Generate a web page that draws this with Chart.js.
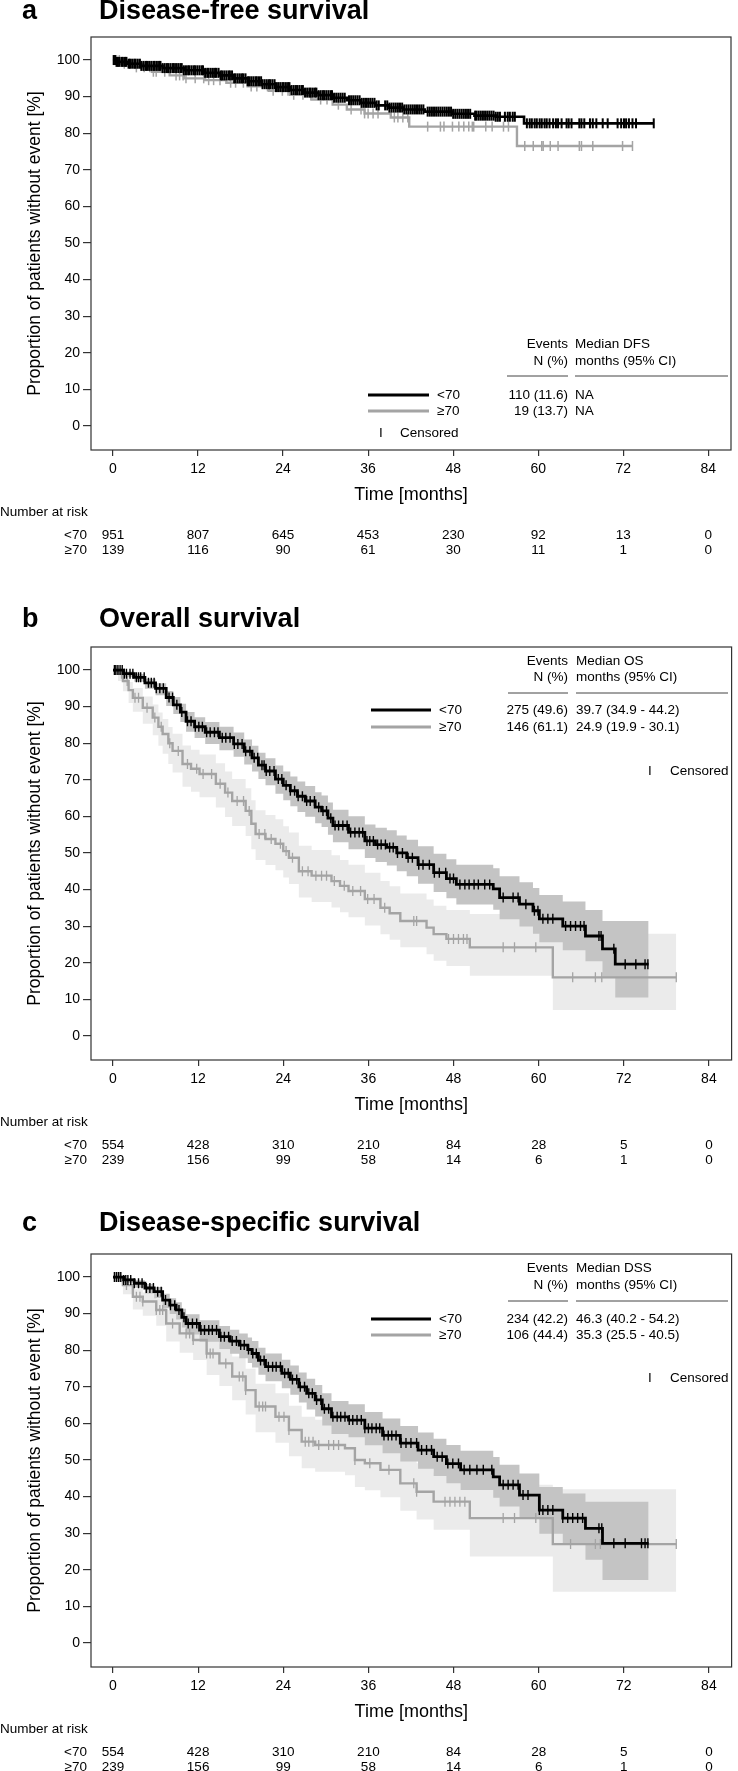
<!DOCTYPE html>
<html>
<head>
<meta charset="utf-8">
<script src="https://cdn.jsdelivr.net/npm/chart.js@4.4.1/dist/chart.umd.min.js"></script>
<style>
  html, body { margin: 0; padding: 0; background: #fff; width: 738px; height: 1771px; overflow: hidden; }
  .panel { position: absolute; left: 0; width: 738px; height: 556px; }
  .panel canvas { position: absolute; left: 0; top: 0; }
  .head { position: absolute; font: bold 27px "Liberation Sans", Arial, sans-serif; line-height: 27px; color: #000; white-space: nowrap; }
</style>
</head>
<body>
<div class="panel" style="top:0px">
  <canvas id="chart-dfs" width="738" height="556"></canvas>
  <div class="head" style="left:22px;top:-3px">a</div>
  <div class="head" style="left:99px;top:-3px">Disease-free survival</div>
</div>
<div class="panel" style="top:610px">
  <canvas id="chart-os" width="738" height="556"></canvas>
  <div class="head" style="left:22px;top:-5px">b</div>
  <div class="head" style="left:99px;top:-5px">Overall survival</div>
</div>
<div class="panel" style="top:1217px">
  <canvas id="chart-dss" width="738" height="556"></canvas>
  <div class="head" style="left:22px;top:-8px">c</div>
  <div class="head" style="left:99px;top:-8px">Disease-specific survival</div>
</div>

<script>
const X_TICKS = [0, 12, 24, 36, 48, 60, 72, 84];
const Y_TICKS = [0, 10, 20, 30, 40, 50, 60, 70, 80, 90, 100];
const GROUPS = ['<70', '≥70'];

// a: disease-free survival
const DFS_YOUNG_T = [0, 0.5, 2, 4, 7, 10, 13, 15, 17, 19, 21, 23, 25, 27, 29, 31, 33, 35, 37, 39, 41, 44, 48, 51, 54, 58, 76.3];
const DFS_YOUNG_S = [100, 99.5, 99, 98.4, 97.8, 97.2, 96.5, 95.8, 95, 94.2, 93.4, 92.6, 91.8, 91.1, 90.4, 89.7, 89, 88.3, 87.6, 87, 86.5, 85.9, 85.3, 84.8, 84.5, 82.7, 82.7];
const DFS_YOUNG_CENS = [0.1, 0.3, 0.5, 0.7, 0.9, 1.2, 1.4, 1.7, 1.9, 2.2, 2.4, 2.7, 3.0, 3.2, 3.5, 3.8, 4.0, 4.3, 4.6, 4.8, 5.1, 5.4, 5.7, 5.9, 6.2, 6.5, 6.7, 7.0, 7.3, 7.6, 7.8, 8.1, 8.4, 8.6, 8.9, 9.2, 9.5, 9.7, 10.0, 10.3, 10.6, 10.8, 11.1, 11.4, 11.6, 11.9, 12.2, 12.5, 12.7, 13.0, 13.3, 13.5, 13.8, 14.1, 14.4, 14.6, 14.9, 15.2, 15.4, 15.7, 16.0, 16.3, 16.5, 16.8, 17.1, 17.3, 17.6, 17.9, 18.2, 18.4, 18.7, 19.0, 19.2, 19.5, 19.8, 20.1, 20.3, 20.6, 20.9, 21.1, 21.4, 21.7, 22.0, 22.2, 22.5, 22.8, 23.0, 23.3, 23.6, 23.9, 24.1, 24.4, 24.7, 24.9, 25.2, 25.5, 25.8, 26.0, 26.3, 26.6, 26.8, 27.1, 27.4, 27.7, 27.9, 28.2, 28.5, 28.7, 29.0, 29.3, 29.6, 29.8, 30.1, 30.4, 30.7, 30.9, 31.2, 31.5, 31.8, 32.1, 32.4, 32.7, 33.3, 33.6, 33.9, 34.2, 34.5, 34.8, 35.1, 35.4, 35.7, 36.0, 36.3, 36.6, 36.9, 37.2, 37.5, 38.4, 38.7, 39.0, 39.3, 39.6, 39.9, 40.2, 40.5, 40.8, 41.1, 41.4, 41.7, 42.0, 42.3, 42.6, 42.9, 43.2, 43.5, 43.8, 44.4, 44.7, 45.0, 45.3, 45.6, 45.9, 46.2, 46.5, 46.8, 47.1, 47.4, 47.7, 48.0, 48.3, 48.6, 48.9, 49.2, 49.5, 49.8, 50.1, 50.4, 51.1, 51.3, 51.6, 51.9, 52.2, 52.5, 52.8, 53.1, 53.4, 53.7, 54.0, 54.3, 54.6, 55.3, 55.7, 56.0, 56.4, 56.7, 58.4, 58.8, 59.1, 59.5, 59.8, 60.2, 60.5, 60.9, 61.2, 61.6, 62.1, 62.5, 62.8, 63.3, 64.0, 64.3, 64.7, 65.8, 66.1, 66.5, 67.3, 67.7, 68.2, 69.1, 69.8, 71.2, 71.7, 72.1, 72.4, 72.8, 73.3, 73.8, 76.3];
const DFS_OLD_T = [0, 1, 3, 5.5, 8, 10, 13, 16, 19, 22, 25, 28, 31, 33, 35.5, 39.2, 41.8, 57, 73.3];
const DFS_OLD_S = [100, 99, 98, 96.8, 95.8, 95, 94.5, 93.8, 92.8, 91.6, 90.5, 89.2, 87.8, 86.5, 85.4, 84.3, 81.8, 76.5, 76.5];
const DFS_OLD_CENS = [0.2, 0.5, 0.9, 1.6, 2.4, 3.3, 4.4, 5.2, 5.7, 6.1, 7.3, 8.9, 9.4, 9.9, 10.3, 11.6, 12.8, 13.5, 14.2, 15.1, 16.6, 17.3, 18.4, 19.5, 20.3, 21.8, 22.6, 23.9, 24.7, 25.5, 26.8, 27.9, 29.3, 30.2, 31.8, 33.6, 35.0, 35.5, 36.0, 36.7, 37.4, 39.7, 40.2, 40.9, 41.6, 44.4, 46.2, 46.7, 47.9, 48.8, 49.5, 50.2, 50.7, 50.9, 52.6, 53.5, 55.1, 55.8, 58.1, 59.3, 60.5, 60.7, 61.7, 62.8, 65.8, 66.1, 67.7, 71.9, 73.3];
const DFS_EVENTS = ['110 (11.6)', '19 (13.7)'];
const DFS_MEDIAN = ['NA', 'NA'];
const DFS_RISK_YOUNG = [951, 807, 645, 453, 230, 92, 13, 0];
const DFS_RISK_OLD = [139, 116, 90, 61, 30, 11, 1, 0];

// b: overall survival
const OS_YOUNG_T = [0, 1.5, 3, 4.5, 6, 7.5, 8.5, 9.5, 10.3, 11.5, 13, 15, 17, 18.5, 19.6, 20.5, 21.5, 22.9, 24, 25, 26, 27.1, 28.5, 29.4, 30.3, 31, 33.2, 35.5, 37, 38.6, 40, 41.4, 43, 45.2, 47, 48.4, 53.6, 54.5, 57.3, 59.2, 60.1, 63.4, 66.6, 69, 70.8, 75.5];
const OS_YOUNG_S = [100, 99, 98, 96.5, 95, 92.5, 90.5, 88.5, 86, 84.5, 83, 81.5, 79.8, 77.8, 76, 74, 72.4, 70.2, 68.5, 67, 65.5, 64.2, 62.5, 61.5, 59.5, 57.5, 55.6, 53.3, 52.3, 51.5, 50, 48.7, 46.8, 44.6, 43, 41.4, 40.2, 37.8, 36, 34.2, 32, 30, 27.3, 23.8, 19.6, 19.6];
const OS_YOUNG_LO = [100, 98.2, 96.8, 94.9, 93.1, 90.2, 88, 85.8, 83.1, 81.4, 79.8, 78.1, 76.3, 74.2, 72.3, 70.2, 68.5, 66.2, 64.4, 62.8, 61.2, 59.9, 58.1, 57.1, 55, 52.9, 51, 48.6, 47.5, 46.6, 45, 43.6, 41.6, 39.3, 37.6, 35.9, 34.5, 31.9, 29.9, 27.9, 25.6, 23.4, 20.4, 16, 10.5, 10.5];
const OS_YOUNG_HI = [100, 99.6, 98.9, 97.6, 96.4, 94.3, 92.6, 90.8, 88.5, 87.1, 85.8, 84.5, 82.9, 81, 79.3, 77.4, 75.9, 73.9, 72.3, 70.9, 69.5, 68.3, 66.6, 65.7, 63.8, 61.8, 60, 57.8, 56.9, 56.2, 54.8, 53.6, 51.8, 49.8, 48.3, 46.8, 45.8, 43.6, 42, 40.4, 38.5, 36.7, 34.4, 31.4, 31.4, 31.4];
const OS_YOUNG_CENS = [0.2, 0.4, 0.7, 1.0, 1.3, 1.6, 1.9, 2.4, 2.8, 3.3, 3.6, 3.9, 4.4, 5.0, 5.4, 5.8, 6.1, 6.6, 7.1, 7.9, 8.4, 9.0, 9.7, 10.5, 11.0, 11.6, 12.1, 12.6, 13.2, 13.7, 14.3, 14.8, 15.4, 15.9, 16.5, 17.1, 17.6, 18.2, 18.7, 19.3, 19.9, 20.4, 21.0, 21.3, 21.6, 22.1, 22.7, 23.3, 23.8, 24.4, 25.0, 25.6, 26.1, 26.7, 27.3, 27.8, 28.4, 29.0, 29.6, 30.1, 30.7, 31.3, 31.8, 32.4, 33.0, 33.5, 34.1, 34.7, 35.2, 35.8, 36.2, 36.7, 37.3, 37.8, 38.4, 39.0, 39.5, 40.1, 40.8, 41.6, 42.2, 43.1, 43.7, 44.6, 45.3, 46.0, 46.9, 47.5, 48.0, 48.9, 49.6, 50.2, 50.9, 51.5, 52.4, 53.1, 55.0, 56.4, 57.1, 58.2, 59.4, 59.9, 60.6, 61.3, 62.0, 63.8, 64.5, 65.2, 65.9, 66.4, 68.5, 68.8, 70.6, 72.2, 73.7, 75.0, 75.4];
const OS_OLD_T = [0, 0.7, 1.4, 2.2, 2.8, 4.2, 5.6, 6.4, 7, 7.8, 8.4, 9.8, 11, 12.2, 14.5, 15.8, 16.8, 18.7, 19.5, 20.1, 21.5, 22.9, 24, 24.8, 26.2, 28, 30.8, 32, 33.2, 35.5, 37.7, 39, 40.5, 44.2, 45.2, 47, 50.3, 62, 79.4];
const OS_OLD_S = [100, 99, 97, 94.5, 92.4, 89.7, 87, 84.5, 82.5, 80, 77.9, 74.3, 73, 71.6, 68.9, 66.5, 64.2, 61.5, 58, 55.2, 53.8, 52.5, 50.5, 48.7, 45, 43.8, 42.3, 41, 39.6, 37.4, 35, 33.5, 31.4, 29.6, 27.8, 26.5, 24.2, 16, 16];
const OS_OLD_LO = [100, 97, 94.2, 91, 88.6, 85.3, 82.2, 79.3, 77.1, 74.3, 72, 68.1, 66.7, 65.2, 62.4, 59.8, 57.4, 54.6, 51, 48.1, 46.7, 45.3, 43.3, 41.5, 37.8, 36.6, 35.1, 33.8, 32.4, 30.2, 27.8, 26.3, 24.2, 22.3, 20.5, 19.1, 16.4, 7.1, 7.1];
const OS_OLD_HI = [100, 99.9, 98.5, 96.7, 95.1, 92.8, 90.6, 88.4, 86.6, 84.4, 82.6, 79.4, 78.2, 76.9, 74.5, 72.3, 70.2, 67.7, 64.4, 61.7, 60.4, 59.2, 57.3, 55.6, 52, 50.8, 49.4, 48.1, 46.8, 44.6, 42.3, 40.9, 38.9, 37.3, 35.6, 34.4, 33.3, 27.9, 27.9];
const OS_OLD_CENS = [0.3, 0.6, 1.2, 2.0, 3.1, 3.6, 4.8, 5.9, 6.8, 8.0, 9.2, 10.5, 11.8, 12.7, 13.9, 15.1, 16.2, 17.5, 18.4, 19.2, 20.6, 21.4, 22.3, 23.6, 24.4, 25.3, 26.7, 27.5, 28.6, 29.4, 30.1, 31.2, 32.6, 33.8, 34.9, 35.9, 36.8, 38.3, 42.4, 42.8, 47.3, 48.0, 48.7, 49.4, 49.9, 55.0, 56.6, 59.6, 64.8, 68.0, 68.9, 79.4];
const OS_EVENTS = ['275 (49.6)', '146 (61.1)'];
const OS_MEDIAN = ['39.7 (34.9 - 44.2)', '24.9 (19.9 - 30.1)'];
const OS_RISK_YOUNG = [554, 428, 310, 210, 84, 28, 5, 0];
const OS_RISK_OLD = [239, 156, 99, 58, 14, 6, 1, 0];

// c: disease-specific survival
const DSS_YOUNG_T = [0, 1.5, 3, 4.5, 5.8, 7, 8, 8.9, 9.7, 10.3, 12.2, 15, 16.5, 17.8, 19, 19.6, 20.5, 21.5, 23.8, 25, 26.2, 27.3, 28.5, 29.5, 30.8, 33.2, 35.5, 38, 40.5, 43, 45.2, 47, 49, 53.6, 54.5, 57.3, 60.1, 63.4, 66.6, 69, 75.5];
const DSS_YOUNG_S = [100, 99.2, 98.3, 97, 96, 93.7, 92.3, 91, 89, 87.3, 85.5, 83.7, 82.5, 81.4, 80.2, 79.1, 77.2, 75.5, 73.7, 72, 70, 68.2, 66.4, 64, 61.8, 60.9, 58.7, 56.7, 54.6, 52.7, 50.9, 49, 47.3, 45.4, 43.2, 40.4, 36.3, 34.1, 31.3, 27.2, 27.2];
const DSS_YOUNG_LO = [100, 98.4, 97.1, 95.5, 94.2, 91.5, 89.9, 88.4, 86.2, 84.3, 82.3, 80.3, 79, 77.8, 76.5, 75.3, 73.3, 71.5, 69.6, 67.8, 65.7, 63.8, 61.9, 59.4, 57.1, 56.2, 54, 51.8, 49.6, 47.6, 45.6, 43.6, 41.8, 39.7, 37.3, 34.2, 29.8, 27.3, 22.7, 17.2, 17.2];
const DSS_YOUNG_HI = [100, 99.7, 99.1, 98.1, 97.3, 95.4, 94.2, 93.1, 91.3, 89.8, 88.2, 86.6, 85.6, 84.6, 83.5, 82.5, 80.7, 79.1, 77.4, 75.8, 73.9, 72.2, 70.5, 68.2, 66.1, 65.2, 63.1, 61.3, 59.3, 57.5, 55.8, 54.1, 52.5, 50.8, 48.7, 46.3, 42.6, 40.8, 38.6, 38.6, 38.6];
const DSS_YOUNG_CENS = [0.2, 0.5, 0.8, 1.1, 1.5, 1.8, 2.1, 2.5, 3.0, 3.6, 4.1, 4.7, 5.2, 5.7, 6.3, 6.8, 7.4, 8.1, 8.7, 9.3, 10.0, 10.6, 11.2, 11.8, 12.4, 12.9, 13.5, 14.0, 14.6, 15.2, 15.7, 16.3, 16.8, 17.4, 18.0, 18.5, 19.1, 19.7, 20.2, 20.8, 21.3, 21.9, 22.5, 23.0, 23.6, 24.2, 24.7, 25.3, 25.9, 26.4, 27.0, 27.6, 28.1, 28.7, 29.3, 29.8, 30.4, 31.0, 31.6, 32.1, 32.7, 33.3, 33.8, 34.4, 35.0, 35.5, 36.0, 36.5, 37.1, 37.6, 38.2, 38.8, 39.3, 39.9, 40.6, 41.3, 42.0, 42.8, 43.5, 44.2, 44.9, 45.7, 46.4, 47.2, 47.9, 48.7, 49.5, 50.3, 51.3, 52.2, 53.4, 55.0, 55.7, 56.4, 57.1, 57.8, 58.5, 60.1, 60.6, 61.3, 62.0, 63.4, 64.1, 64.8, 65.5, 66.2, 68.5, 68.9, 70.6, 72.2, 74.5, 75.0, 75.4];
const DSS_OLD_T = [0, 1.4, 2.8, 4.2, 6.1, 7.5, 9.4, 11.3, 13.2, 15, 16.8, 18.7, 20.1, 22.9, 24.8, 26.6, 28.5, 32.7, 34.1, 35.5, 37.7, 40.5, 42.8, 45.2, 50.3, 62, 79.4];
const DSS_OLD_S = [100, 97.8, 94.6, 93.3, 91, 87.3, 84.6, 82.8, 79.1, 76.4, 72.8, 69.1, 64.6, 61.8, 58.2, 55, 54.1, 53.2, 50, 49.1, 47.3, 43.6, 41.3, 38.6, 34.1, 27, 27];
const DSS_OLD_LO = [100, 95.3, 91.1, 89.4, 86.7, 82.4, 79.3, 77.3, 73.2, 70.2, 66.3, 62.4, 57.6, 54.7, 51, 47.7, 46.8, 45.8, 42.6, 41.7, 39.8, 36.1, 33.7, 30.9, 23.6, 14, 14];
const DSS_OLD_HI = [100, 99, 96.8, 95.8, 94, 91, 88.7, 87.1, 83.9, 81.6, 78.3, 74.9, 70.8, 68.2, 64.8, 61.8, 61, 60.1, 57.1, 56.3, 54.6, 51.2, 49.1, 46.6, 43.2, 42, 42];
const DSS_OLD_CENS = [0.3, 0.7, 1.0, 1.9, 3.3, 3.8, 4.2, 6.1, 6.6, 7.0, 8.4, 10.3, 10.8, 11.3, 13.2, 13.7, 14.1, 15.9, 17.8, 18.3, 18.7, 20.6, 21.1, 21.5, 23.4, 24.1, 24.8, 27.1, 27.6, 28.2, 29.0, 30.4, 31.1, 31.8, 34.1, 36.2, 38.9, 42.4, 42.8, 46.8, 47.5, 48.2, 48.9, 49.6, 55.0, 56.6, 59.6, 64.5, 68.0, 68.7, 79.4];
const DSS_EVENTS = ['234 (42.2)', '106 (44.4)'];
const DSS_MEDIAN = ['46.3 (40.2 - 54.2)', '35.3 (25.5 - 40.5)'];
const DSS_RISK_YOUNG = [554, 428, 310, 210, 84, 28, 5, 0];
const DSS_RISK_OLD = [239, 156, 99, 58, 14, 6, 1, 0];

const BLACK = '#000000';
const GREY = '#a4a4a4';
const BAND_YOUNG = '#c4c4c4';
const BAND_OLD = '#ebebeb';
const FONT = '"Liberation Sans", Arial, sans-serif';

Chart.defaults.font.family = FONT;
Chart.defaults.color = '#000';

const pts = (t, v) => t.map((x, i) => ({ x, y: v[i] }));

function survAt(t, s, c) {
    let v = s[0];
    for (let i = 0; i < t.length; i++) {
        if (t[i] <= c) v = s[i];
    }
    return v;
}

function band(t, lo, hi, color, order) {
    return [
        { data: pts(t, lo), borderWidth: 0, pointRadius: 0, stepped: true, fill: false, order },
        { data: pts(t, hi), borderWidth: 0, pointRadius: 0, stepped: true, fill: '-1', backgroundColor: color, order },
    ];
}

function curve(t, s, cens, color, width, tick, order) {
    return [
        { data: pts(t, s), borderColor: color, borderWidth: width, stepped: true, pointRadius: 0, fill: false, order: order + 1 },
        {
            data: cens.map(c => ({ x: c, y: survAt(t, s, c) })),
            showLine: false, pointStyle: 'line', rotation: 90, pointRadius: 5,
            borderColor: color, pointBorderColor: color, pointBorderWidth: tick, order,
        },
    ];
}

function notes(n) {
    return {
        id: 'km-notes',
        afterDraw(chart) {
            const { ctx, chartArea: a, scales: { x } } = chart;
            ctx.save();
            ctx.strokeStyle = '#333';
            ctx.lineWidth = 1.2;
            ctx.strokeRect(a.left, a.top, a.right - a.left, a.bottom - a.top);

            ctx.fillStyle = '#000';
            ctx.font = '13.5px ' + FONT;
            ctx.textBaseline = 'middle';

            ctx.textAlign = 'right';
            ctx.fillText('Events', n.evX, n.head[0]);
            ctx.fillText('N (%)', n.evX, n.head[1]);
            ctx.textAlign = 'left';
            ctx.fillText(n.medTitle, n.medX, n.head[0]);
            ctx.fillText('months (95% CI)', n.medX, n.head[1]);

            ctx.strokeStyle = '#444';
            ctx.lineWidth = 1;
            ctx.beginPath();
            ctx.moveTo(n.ruleA[0], n.rule); ctx.lineTo(n.ruleA[1], n.rule);
            ctx.moveTo(n.ruleB[0], n.rule); ctx.lineTo(n.ruleB[1], n.rule);
            ctx.stroke();

            GROUPS.forEach((g, i) => {
                const y = n.rows[i];
                ctx.strokeStyle = i === 0 ? BLACK : GREY;
                ctx.lineWidth = 3;
                ctx.beginPath();
                ctx.moveTo(n.line[0], y); ctx.lineTo(n.line[1], y);
                ctx.stroke();
                ctx.textAlign = 'left';
                ctx.fillText(g, n.labX, y);
                ctx.textAlign = 'right';
                ctx.fillText(n.counts[i], n.evX, y);
                ctx.textAlign = 'left';
                ctx.fillText(n.medians[i], n.medX, y);
            });

            ctx.textAlign = 'center';
            ctx.fillText('I', n.cens[0], n.cens[2]);
            ctx.textAlign = 'left';
            ctx.fillText('Censored', n.cens[1], n.cens[2]);

            ctx.fillText('Number at risk', 0, a.bottom + 62);
            n.risk.forEach((row, i) => {
                const y = a.bottom + 85 + i * 15;
                ctx.textAlign = 'right';
                ctx.fillText(GROUPS[i], 87, y);
                ctx.textAlign = 'center';
                row.forEach((v, j) => ctx.fillText(String(v), x.getPixelForValue(X_TICKS[j]), y));
            });
            ctx.restore();
        },
    };
}

function kmChart(id, datasets, n) {
    return new Chart(document.getElementById(id), {
        type: 'line',
        data: { datasets },
        options: {
            responsive: false,
            animation: false,
            events: [],
            layout: { padding: { top: 37, right: 2, left: 0, bottom: 0 } },
            plugins: { legend: { display: false }, tooltip: { enabled: false } },
            scales: {
                x: {
                    type: 'linear', min: -3.1, max: 87.2,
                    afterBuildTicks: s => { s.ticks = X_TICKS.map(v => ({ value: v })); },
                    afterFit: s => { s.height = 106; },
                    grid: { drawOnChartArea: false, tickLength: 6, color: '#333', lineWidth: 1.2 },
                    border: { display: false },
                    ticks: { font: { size: 14 }, padding: 5, maxRotation: 0, autoSkip: false },
                    title: { display: true, text: 'Time [months]', font: { size: 18 }, padding: { top: 0, bottom: 50 } },
                },
                y: {
                    min: -6.6, max: 106.3,
                    afterBuildTicks: s => { s.ticks = Y_TICKS.map(v => ({ value: v })); },
                    afterFit: s => { s.width = 91; },
                    grid: { drawOnChartArea: false, tickLength: 8, color: '#333', lineWidth: 1.2 },
                    border: { display: false },
                    ticks: { font: { size: 14 }, padding: 3, autoSkip: false },
                    title: { display: true, text: 'Proportion of patients without event [%]', font: { size: 17.5 }, padding: { top: 25, bottom: 0 } },
                },
            },
        },
        plugins: [notes(n)],
    });
}

const WIDE = { evX: 568, medX: 576, ruleA: [508, 568], ruleB: [576, 728], line: [371, 431], labX: 439 };

kmChart('chart-dfs', [
    ...curve(DFS_OLD_T, DFS_OLD_S, DFS_OLD_CENS, GREY, 2.4, 1.5, 3),
    ...curve(DFS_YOUNG_T, DFS_YOUNG_S, DFS_YOUNG_CENS, BLACK, 2.6, 2, 1),
], {
    evX: 568, medX: 575, ruleA: [507, 568], ruleB: [575, 728], line: [368, 429], labX: 437,
    head: [344, 361], rule: 376, rows: [395, 411], cens: [381, 400, 433],
    medTitle: 'Median DFS', counts: DFS_EVENTS, medians: DFS_MEDIAN,
    risk: [DFS_RISK_YOUNG, DFS_RISK_OLD],
});

kmChart('chart-os', [
    ...band(OS_OLD_T, OS_OLD_LO, OS_OLD_HI, BAND_OLD, 8),
    ...band(OS_YOUNG_T, OS_YOUNG_LO, OS_YOUNG_HI, BAND_YOUNG, 7),
    ...curve(OS_OLD_T, OS_OLD_S, OS_OLD_CENS, GREY, 2.4, 1.3, 3),
    ...curve(OS_YOUNG_T, OS_YOUNG_S, OS_YOUNG_CENS, BLACK, 2.8, 1.4, 1),
], Object.assign({}, WIDE, {
    head: [51, 67], rule: 83, rows: [100, 117], cens: [650, 670, 161],
    medTitle: 'Median OS', counts: OS_EVENTS, medians: OS_MEDIAN,
    risk: [OS_RISK_YOUNG, OS_RISK_OLD],
}));

kmChart('chart-dss', [
    ...band(DSS_OLD_T, DSS_OLD_LO, DSS_OLD_HI, BAND_OLD, 8),
    ...band(DSS_YOUNG_T, DSS_YOUNG_LO, DSS_YOUNG_HI, BAND_YOUNG, 7),
    ...curve(DSS_OLD_T, DSS_OLD_S, DSS_OLD_CENS, GREY, 2.4, 1.3, 3),
    ...curve(DSS_YOUNG_T, DSS_YOUNG_S, DSS_YOUNG_CENS, BLACK, 2.8, 1.4, 1),
], Object.assign({}, WIDE, {
    head: [51, 68], rule: 84, rows: [102, 118], cens: [650, 670, 161],
    medTitle: 'Median DSS', counts: DSS_EVENTS, medians: DSS_MEDIAN,
    risk: [DSS_RISK_YOUNG, DSS_RISK_OLD],
}));
</script>
</body>
</html>
